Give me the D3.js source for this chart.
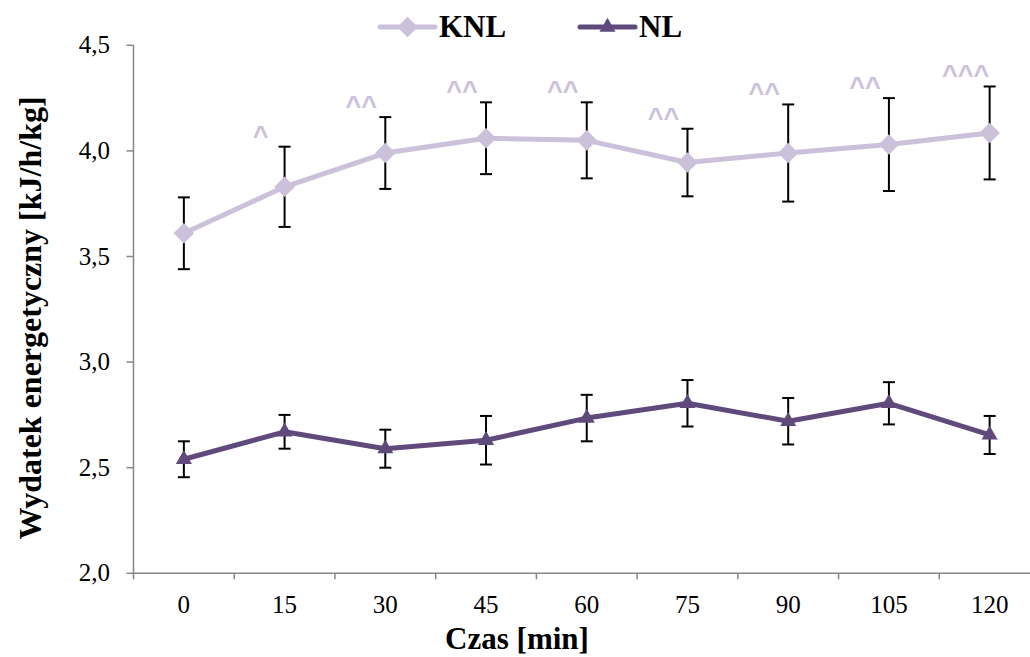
<!DOCTYPE html>
<meta charset="utf-8">
<style>
body { margin: 0; background: #fff; }
svg { display: block; }
.tick-label { font-family: "Liberation Serif", "Times New Roman", serif; font-size: 25px; fill: #000; }
.title { font-family: "Liberation Serif", "Times New Roman", serif; font-size: 31px; font-weight: bold; fill: #000; }
.sig { font-family: "Liberation Sans", Arial, sans-serif; font-size: 27px; font-weight: bold; fill: #ccc1da; }
.axis-line { stroke: #868686; stroke-width: 1.5; fill: none; }
.err { stroke: #000; stroke-width: 2; fill: none; }
</style>
<svg width="1030" height="657"></svg>
<script src="https://cdn.jsdelivr.net/npm/d3@7"></script>
<script>

// data
var minutes = ["0", "15", "30", "45", "60", "75", "90", "105", "120"];
var knlMean = [3.61, 3.83, 3.99, 4.06, 4.05, 3.945, 3.99, 4.03, 4.085];
var knlSd   = [0.17, 0.19, 0.17, 0.17, 0.18, 0.16, 0.23, 0.22, 0.22];
var nlMean  = [2.54, 2.67, 2.59, 2.63, 2.735, 2.805, 2.72, 2.805, 2.655];
var nlSd    = [0.085, 0.08, 0.09, 0.115, 0.11, 0.11, 0.11, 0.10, 0.09];
var knlSig  = ["", "^", "^^", "^^", "^^", "^^", "^^", "^^", "^^^"];
var yTicks  = [2.0, 2.5, 3.0, 3.5, 4.0, 4.5];

var colKNL = "#ccc1da",
    colNL = "#604a7b";

var svg = d3.select("svg");

var x = d3.scaleBand().domain(minutes).range([133.5, 1040]);
var y = d3.scaleLinear().domain([2, 4.5]).range([573.3, 45.3]);
var cx = function(c) { return x(c) + x.bandwidth() / 2; };

// y axis
svg.append("line").attr("class", "axis-line")
    .attr("x1", x.range()[0]).attr("x2", x.range()[0])
    .attr("y1", y(4.5)).attr("y2", y(2));
svg.selectAll(".ytick").data(yTicks).enter().append("line")
    .attr("class", "axis-line")
    .attr("x1", x.range()[0] - 7).attr("x2", x.range()[0])
    .attr("y1", d => y(d)).attr("y2", d => y(d));
svg.selectAll(".ylab").data(yTicks).enter().append("text")
    .attr("class", "tick-label")
    .attr("x", 110).attr("y", d => y(d) + 8)
    .attr("text-anchor", "end")
    .text(d => d3.format(".1f")(d).replace(".", ","));

// x axis (ticks between categories, Excel style)
svg.append("line").attr("class", "axis-line")
    .attr("x1", x.range()[0]).attr("x2", x.range()[1])
    .attr("y1", y(2)).attr("y2", y(2));
var bounds = minutes.map(c => x(c)).concat([x.range()[1]]);
svg.selectAll(".xtick").data(bounds).enter().append("line")
    .attr("class", "axis-line")
    .attr("x1", d => d).attr("x2", d => d)
    .attr("y1", y(2)).attr("y2", y(2) + 6);
svg.selectAll(".xlab").data(minutes).enter().append("text")
    .attr("class", "tick-label")
    .attr("x", d => cx(d)).attr("y", y(2) + 40)
    .attr("text-anchor", "middle")
    .text(d => d);

// axis titles
svg.append("text").attr("class", "title")
    .style("font-size", "32px")
    .attr("transform", "translate(41,318) rotate(-90)")
    .attr("text-anchor", "middle")
    .text("Wydatek energetyczny [kJ/h/kg]");
svg.append("text").attr("class", "title")
    .attr("x", 517).attr("y", 649)
    .attr("text-anchor", "middle")
    .text("Czas [min]");

var diamond = d3.symbol().type(d3.symbolDiamond2).size(270);
var triangle = d3.symbol().type(d3.symbolTriangle2).size(185);

function series(mean, sd, color, sym) {
    var g = svg.append("g");
    var pts = minutes.map((c, i) => ({ c: c, m: mean[i], s: sd[i] }));

    var eb = g.selectAll(".eb").data(pts).enter().append("g");
    eb.append("line").attr("class", "err")
        .attr("x1", d => cx(d.c)).attr("x2", d => cx(d.c))
        .attr("y1", d => y(d.m - d.s)).attr("y2", d => y(d.m + d.s));
    [-1, 1].forEach(function(k) {
        eb.append("line").attr("class", "err")
            .attr("x1", d => cx(d.c) - 6).attr("x2", d => cx(d.c) + 6)
            .attr("y1", d => y(d.m + k * d.s)).attr("y2", d => y(d.m + k * d.s));
    });

    g.append("path").datum(pts)
        .attr("fill", "none").attr("stroke", color).attr("stroke-width", 5)
        .attr("stroke-linejoin", "round")
        .attr("d", d3.line().x(d => cx(d.c)).y(d => y(d.m)));

    g.selectAll(".mk").data(pts).enter().append("path")
        .attr("transform", d => "translate(" + cx(d.c) + "," + y(d.m) + ")")
        .attr("d", sym).attr("fill", color);
    return pts;
}

var knlPts = series(knlMean, knlSd, colKNL, diamond);
series(nlMean, nlSd, colNL, triangle);

// significance marks above KNL error bars
svg.selectAll(".sig").data(knlPts).enter().append("text")
    .attr("class", "sig")
    .attr("x", d => cx(d.c) - 24)
    .attr("y", d => y(d.m + d.s) - 2)
    .attr("text-anchor", "middle")
    .text((d, i) => knlSig[i]);

// legend
var legend = [
    { name: "KNL", color: colKNL, sym: diamond, x: 380 },
    { name: "NL", color: colNL, sym: triangle, x: 580 }
];
var lg = svg.selectAll(".lg").data(legend).enter().append("g")
    .attr("transform", d => "translate(" + d.x + ",27)");
lg.append("line").attr("x1", 0).attr("x2", 55).attr("y1", 0).attr("y2", 0)
    .attr("stroke", d => d.color).attr("stroke-width", 5).attr("stroke-linecap", "round");
lg.append("path").attr("transform", "translate(27.5,0)")
    .attr("d", d => d.sym()).attr("fill", d => d.color);
lg.append("text").attr("class", "title")
    .attr("x", 59).attr("y", 10)
    .text(d => d.name);

</script>
